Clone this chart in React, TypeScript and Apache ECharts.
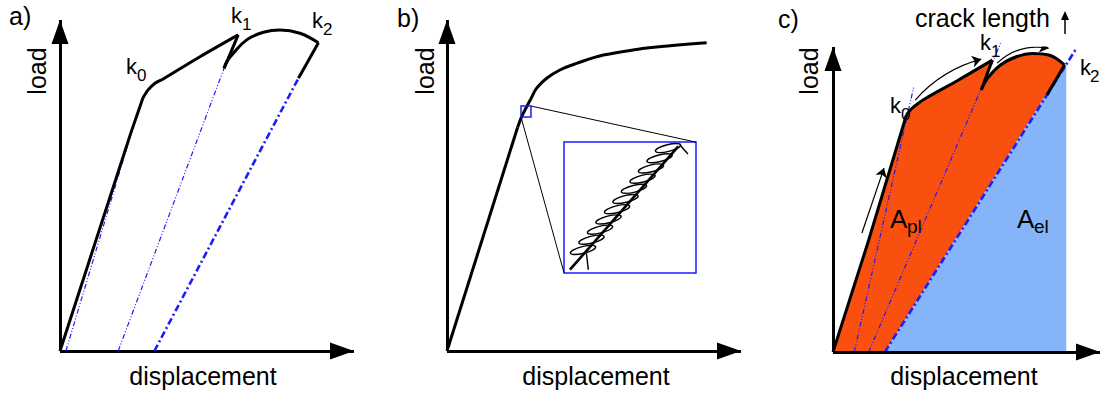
import React, { useEffect, useRef } from 'react';
import * as echarts from 'echarts';

const FONT = '"Liberation Sans", Arial, Helvetica, sans-serif';
const BLACK = '#000000';
const BLUE = '#1c1cff';
const ORANGE = '#F9500F';
const LIGHT_BLUE = '#86B4F8';

// ---- panel a: load–displacement record with two unloading events ----
const aElastic = [[0, 0], [2.41, 6.59], [2.82, 7.64]];
const aToK1 = [[2.82, 7.64], [2.99, 7.88], [3.23, 8.09], [3.51, 8.22], [4.76, 8.89], [6.06, 9.55]];
const aDropK1 = [[6.06, 9.55], [5.58, 8.54]];
const aToK2 = [[5.58, 8.54], [5.67, 8.74], [5.89, 8.99], [6.35, 9.4], [6.92, 9.63], [7.48, 9.7], [8.16, 9.6], [8.79, 9.31]];
const aUnloadK2 = [[8.79, 9.31], [8.11, 8.24]];
const aSlopeK0 = [[0.2, 0], [2.44, 6.63]];
const aSlopeK1 = [[1.98, 0], [5.58, 8.54]];
const aSlopeK2 = [[3.21, 0], [8.11, 8.24]];

// ---- panel b: monotonic curve with a magnified window ----
const bLinear = [[0, 0], [2.4, 6.75]];
const bPlastic = [[2.4, 6.75], [2.54, 7.08], [2.71, 7.38], [2.86, 7.63], [3.05, 7.94], [3.39, 8.24], [3.84, 8.49], [4.41, 8.69], [5.32, 8.94], [6.45, 9.11], [7.59, 9.22], [8.83, 9.31]];
const bWindowX = [2.517, 2.857];
const bWindowY = [7.07, 7.4];
const bInsetCornerTR = [8.47, 6.31];
const bInsetCornerBL = [3.98, 2.36];

// magnified window (local units 0..1)
const insetLine = [[0.045, 0.025], [0.866, 0.967]];
const loopX = [0.144, 0.208, 0.273, 0.337, 0.402, 0.466, 0.53, 0.595, 0.659, 0.724, 0.788];
const loopY = [0.176, 0.254, 0.331, 0.409, 0.487, 0.565, 0.643, 0.72, 0.798, 0.876, 0.954];
const springTailStart = [[0.184, 0.025], [0.17, 0.15]];
const springTailEnd = [[0.88, 0.975], [0.939, 0.908]];

// ---- panel c: energy split into plastic and elastic parts ----
const cElastic = [[0, 0], [1.26, 3.67], [2.59, 7.77]];
const cToK1 = [[2.59, 7.77], [2.79, 7.99], [3.0, 8.15], [3.29, 8.33], [4.43, 8.92], [5.62, 9.57]];
const cDropK1 = [[5.62, 9.57], [5.23, 8.59]];
const cToK2 = [[5.23, 8.59], [5.45, 8.97], [5.91, 9.41], [6.47, 9.68], [7.04, 9.79], [7.61, 9.74], [8.17, 9.41]];
const cUnloadK2 = [[8.17, 9.41], [7.55, 8.43]];
const cSlopeK0 = [[0.75, 0], [2.85, 8.7]];
const cSlopeK1 = [[1.26, 0], [5.91, 10.12]];
const cSlopeK2 = [[1.83, 0], [8.55, 9.9]];
const cPlasticArea = [...cElastic, ...cToK1.slice(1), ...cDropK1.slice(1), ...cToK2.slice(1), [1.83, 0]];
const cElasticArea = [[1.83, 0], [8.17, 9.41], [8.23, 9.41], [8.23, 0]];
const cArrowLoading = [[1.02, 3.9], [1.8, 6.03]];
const cArrowToK1 = [[2.9, 8.26], [5.23, 9.6]];
const cArrowToK2 = [[5.79, 9.47], [7.61, 9.96]];

const axisLine = {
  show: true,
  onZero: false,
  symbol: ['none', 'triangle'],
  symbolSize: [17, 24],
  symbolOffset: [0, -12],
  lineStyle: { color: BLACK, width: 3, cap: 'butt' },
};

function axis(gridIndex: number, max: number, z = 0) {
  return {
    gridIndex,
    type: 'value',
    min: 0,
    max,
    z,
    axisLine,
    axisTick: { show: false },
    axisLabel: { show: false },
    splitLine: { show: false },
  };
}

function hiddenAxis(gridIndex: number) {
  return { gridIndex, type: 'value', min: 0, max: 1, show: false };
}

function curve(idx: number, data: number[][], opts: any = {}) {
  return {
    type: 'line',
    xAxisIndex: idx,
    yAxisIndex: idx,
    data,
    symbol: 'none',
    showSymbol: false,
    smooth: opts.smooth ?? false,
    clip: false,
    silent: true,
    z: opts.z ?? 4,
    lineStyle: {
      color: opts.color ?? BLACK,
      width: opts.width ?? 3,
      type: opts.type ?? 'solid',
      cap: 'butt',
      join: 'miter',
    },
  };
}

const thinDash = { color: BLUE, width: 1.2, type: [5, 2, 1, 2, 1, 2], z: 3 };
const thickDash = { color: BLUE, width: 2.6, type: [7, 3, 2, 3], z: 3 };

function txt(x: number, baseline: number, text: string, fs: number, align = 'left') {
  return {
    type: 'text',
    x,
    y: baseline - 0.3465 * fs,
    z: 100,
    style: { text, fontSize: fs, fontFamily: FONT, fill: BLACK, align, verticalAlign: 'middle' },
  };
}

function vtxt(cx: number, cy: number, text: string, fs: number) {
  return {
    type: 'text',
    x: cx,
    y: cy,
    rotation: Math.PI / 2,
    z: 100,
    style: { text, fontSize: fs, fontFamily: FONT, fill: BLACK, align: 'center', verticalAlign: 'middle' },
  };
}

function kLabel(x: number, baseline: number, sub: string, gap = 11) {
  return [txt(x, baseline, 'k', 22), txt(x + gap, baseline + 7, sub, 17)];
}

export default function App() {
  const ref = useRef<HTMLDivElement>(null);

  useEffect(() => {
    if (!ref.current) return;
    const chart = echarts.init(ref.current, undefined, { renderer: 'svg' });

    const option = {
      animation: false,
      backgroundColor: '#ffffff',
      grid: [
        { left: 60, top: 20, width: 294, height: 331 },
        { left: 447, top: 20, width: 294, height: 331 },
        { left: 833, top: 47, width: 277, height: 305 },
        { left: 564, top: 142, width: 132, height: 131, show: true, borderColor: BLUE, borderWidth: 1.5, backgroundColor: '#ffffff', z: 1 },
      ],
      xAxis: [axis(0, 10), axis(1, 10), axis(2, 9.42, 10), hiddenAxis(3)],
      yAxis: [axis(0, 10), axis(1, 10), axis(2, 10, 10), hiddenAxis(3)],
      series: [
        // panel a
        curve(0, aSlopeK0, thinDash),
        curve(0, aSlopeK1, thinDash),
        curve(0, aSlopeK2, thickDash),
        curve(0, aElastic),
        curve(0, aToK1, { smooth: 0.3 }),
        curve(0, aDropK1),
        curve(0, aToK2, { smooth: 0.4 }),
        curve(0, aUnloadK2),

        // panel b
        curve(1, bLinear),
        curve(1, bPlastic, { smooth: 0.4 }),
        curve(1, [[bWindowX[0], bWindowY[0]], bInsetCornerBL], { width: 1, z: 2 }),
        curve(1, [[bWindowX[1], bWindowY[1]], bInsetCornerTR], { width: 1, z: 2 }),
        curve(1, [
          [bWindowX[0], bWindowY[0]],
          [bWindowX[1], bWindowY[0]],
          [bWindowX[1], bWindowY[1]],
          [bWindowX[0], bWindowY[1]],
          [bWindowX[0], bWindowY[0]],
        ], { color: BLUE, width: 1.5, z: 5 }),

        // magnified window: the curve with a coil of small load cycles wound around it
        curve(3, insetLine, { width: 2.6, z: 6 }),
        curve(3, springTailStart, { width: 1.4, z: 6 }),
        curve(3, springTailEnd, { width: 1.4, z: 6 }),
        {
          type: 'custom',
          xAxisIndex: 3,
          yAxisIndex: 3,
          silent: true,
          clip: true,
          z: 6,
          data: loopX.map((x, i) => [x, loopY[i]]),
          renderItem: (_params: any, api: any) => {
            const p = api.coord([api.value(0), api.value(1)]);
            return {
              type: 'ellipse',
              x: p[0],
              y: p[1],
              rotation: (14 * Math.PI) / 180,
              shape: { cx: 0, cy: 0, rx: 13, ry: 3.4 },
              style: { fill: 'none', stroke: BLACK, lineWidth: 1.4 },
            };
          },
        },

        // panel c fills
        {
          type: 'custom',
          xAxisIndex: 2,
          yAxisIndex: 2,
          silent: true,
          z: 1,
          data: [[0, 0]],
          renderItem: (_params: any, api: any) => ({
            type: 'group',
            children: [
              { type: 'polygon', shape: { points: cPlasticArea.map((p) => api.coord(p)) }, style: { fill: ORANGE } },
              { type: 'polygon', shape: { points: cElasticArea.map((p) => api.coord(p)) }, style: { fill: LIGHT_BLUE } },
            ],
          }),
        },
        curve(2, cSlopeK0, thinDash),
        curve(2, cSlopeK1, thinDash),
        curve(2, cSlopeK2, thickDash),
        curve(2, cElastic),
        curve(2, cToK1, { smooth: 0.3 }),
        curve(2, cDropK1),
        curve(2, cToK2, { smooth: 0.4 }),
        curve(2, cUnloadK2),
        {
          type: 'lines',
          coordinateSystem: 'cartesian2d',
          xAxisIndex: 2,
          yAxisIndex: 2,
          silent: true,
          z: 8,
          symbol: ['none', 'arrow'],
          symbolSize: 9,
          lineStyle: { color: BLACK, width: 1.2, opacity: 1 },
          data: [
            { coords: cArrowLoading, lineStyle: { curveness: 0 } },
            { coords: cArrowToK1, lineStyle: { curveness: 0.15 } },
            { coords: cArrowToK2, lineStyle: { curveness: 0.25 } },
          ],
        },
      ],
      graphic: [
        txt(9, 25, 'a)', 25),
        txt(397, 27, 'b)', 25),
        txt(778, 28, 'c)', 25),
        vtxt(37, 71, 'load', 25),
        vtxt(425, 71, 'load', 25),
        vtxt(809, 71, 'load', 25),
        txt(203, 385, 'displacement', 25, 'center'),
        txt(596, 385, 'displacement', 25, 'center'),
        txt(964, 385, 'displacement', 25, 'center'),
        ...kLabel(126, 74, '0'),
        ...kLabel(231, 23, '1'),
        ...kLabel(312, 28, '2'),
        ...kLabel(890, 113, '0'),
        ...kLabel(980, 50, '1'),
        ...kLabel(1080, 75, '2', 10),
        txt(890, 228, 'A', 26),
        txt(907, 233, 'pl', 19),
        txt(1017, 228, 'A', 26),
        txt(1034, 233, 'el', 19),
        txt(915, 27, 'crack length', 25),
        { type: 'line', z: 100, shape: { x1: 1065, y1: 34, x2: 1065, y2: 17 }, style: { stroke: BLACK, lineWidth: 1.5 } },
        { type: 'polygon', z: 100, shape: { points: [[1061, 20], [1065, 11], [1069, 20]] }, style: { fill: BLACK } },
      ],
    };

    chart.setOption(option as any);
    return () => chart.dispose();
  }, []);

  return <div ref={ref} style={{ position: 'fixed', left: 0, top: 0, width: 1100, height: 394 }} />;
}
